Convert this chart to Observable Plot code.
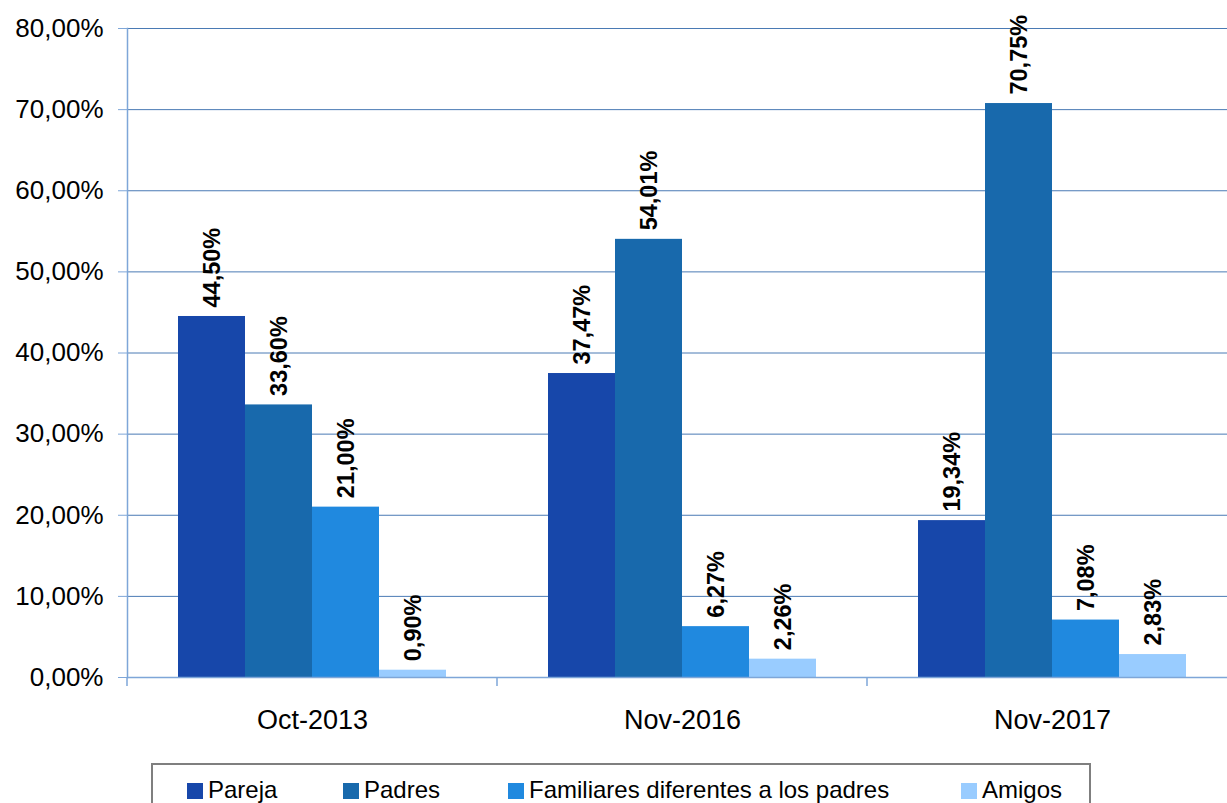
<!DOCTYPE html>
<html>
<head>
<meta charset="utf-8">
<script src="https://cdn.jsdelivr.net/npm/d3@7"></script>
<script src="https://cdn.jsdelivr.net/npm/@observablehq/plot@0.6"></script>
<style>
  html, body { margin: 0; padding: 0; background: #fff; overflow: hidden; }
  #wrap { position: relative; width: 1227px; height: 803px; overflow: hidden; font-family: "Liberation Sans", Arial, sans-serif; }
  #chart { position: absolute; left: 0; top: 0; width: 1237px; }
  #chart svg { max-width: none !important; }
  #legend { position: absolute; left: 151px; top: 763px; width: 940px; height: 50px; border: 2px solid #7f7f7f; box-sizing: border-box; background: #fff; }
  .item { position: absolute; top: 11px; display: flex; align-items: center; font-size: 24px; color: #000; white-space: nowrap; }
  .sw { width: 16px; height: 16px; margin-right: 5px; margin-top: 2px; }
</style>
</head>
<body>
<div id="wrap">
  <div id="chart"></div>
  <div id="legend"></div>
</div>
<script>
const categories = ["Oct-2013", "Nov-2016", "Nov-2017"];
const series = ["Pareja", "Padres", "Familiares diferentes a los padres", "Amigos"];
const pareja = [44.50, 37.47, 19.34];
const padres = [33.60, 54.01, 70.75];
const familiares = [21.00, 6.27, 7.08];
const amigos = [0.90, 2.26, 2.83];
const colors = ["#1747aa", "#1869ac", "#2089df", "#99ccff"];
const yTicks = [0, 10, 20, 30, 40, 50, 60, 70, 80];
const legendOffsets = [34, 190, 355, 808];

const valuesBySeries = [pareja, padres, familiares, amigos];
const data = [];
categories.forEach((c, ci) => {
  series.forEach((s, si) => {
    data.push({cat: c, serie: s, value: valuesBySeries[si][ci]});
  });
});

const fmt = v => v.toFixed(2).replace(".", ",") + "%";
const gridColor = "#4a7ab4";
const axisColor = "#7ea6d8";

const chart = Plot.plot({
  width: 1237,
  height: 760,
  marginLeft: 127,
  marginRight: 0,
  marginTop: 28,
  marginBottom: 83,
  style: {fontFamily: "'Liberation Sans', Arial, sans-serif", background: "#fff", overflow: "visible", maxWidth: "none"},
  fx: {domain: categories, padding: 0, label: null},
  x: {domain: series, paddingInner: 0, paddingOuter: 0.74, axis: null},
  y: {domain: [0, 80], label: null},
  color: {domain: series, range: colors},
  marks: [
    Plot.ruleY(yTicks.filter(d => d > 0), {stroke: gridColor, strokeWidth: 1}),
    Plot.barY(data, {fx: "cat", x: "serie", y: "value", fill: "serie"}),
    Plot.ruleY([0], {stroke: axisColor, strokeWidth: 1.5}),
    Plot.frame({anchor: "left", stroke: axisColor, strokeWidth: 1.5, facetAnchor: "left"}),
    Plot.text(data, {
      fx: "cat", x: "serie", y: "value", text: d => fmt(d.value),
      rotate: -90, textAnchor: "start", lineAnchor: "middle", dy: -9,
      fontSize: 23.5, fontWeight: "bold", fill: "#000"
    }),
    Plot.axisY({
      ticks: yTicks, tickFormat: fmt, tickSize: 9, tickPadding: 15,
      fontSize: 26, stroke: axisColor, fill: "#000", label: null
    }),
    Plot.axisFx({
      anchor: "bottom", tickSize: 0, tickPadding: 32, fontSize: 27, fill: "#000", label: null
    })
  ]
});

document.getElementById("chart").appendChild(chart);

// category boundary tick marks on the x axis, derived from the fx scale
const fxScale = chart.scale("fx");
const yScale = chart.scale("y");
const y0 = yScale.apply(0);
const bounds = [];
categories.forEach(c => {
  const start = fxScale.apply(c);
  bounds.push(start);
  bounds.push(start + fxScale.bandwidth);
});
const uniq = Array.from(new Set(bounds.map(b => Math.round(b * 100) / 100)));
d3.select(chart).append("g")
  .selectAll("line")
  .data(uniq)
  .join("line")
  .attr("x1", d => d).attr("x2", d => d)
  .attr("y1", y0).attr("y2", y0 + 9)
  .attr("stroke", axisColor)
  .attr("stroke-width", 1.5);

// legend
const legend = document.getElementById("legend");
series.forEach((s, i) => {
  const item = document.createElement("div");
  item.className = "item";
  item.style.left = legendOffsets[i] + "px";
  const sw = document.createElement("span");
  sw.className = "sw";
  sw.style.background = colors[i];
  const label = document.createElement("span");
  label.textContent = s;
  item.appendChild(sw);
  item.appendChild(label);
  legend.appendChild(item);
});
</script>
</body>
</html>
